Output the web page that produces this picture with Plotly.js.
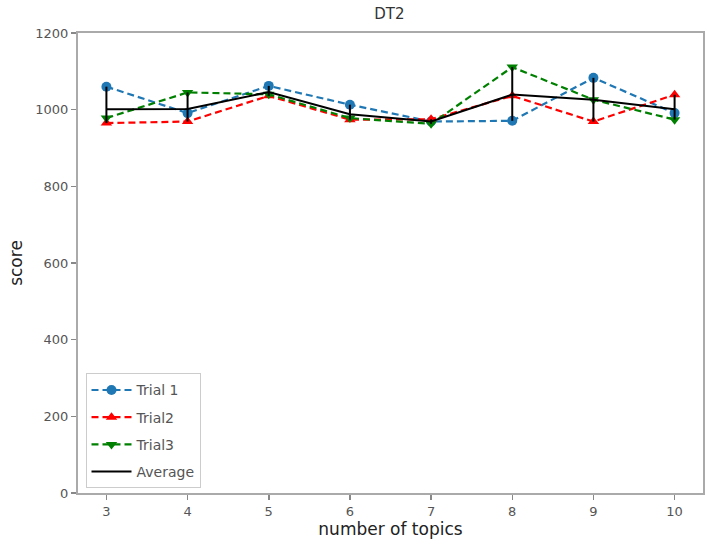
<!DOCTYPE html>
<html>
<head>
<meta charset="utf-8">
<script src="https://cdn.plot.ly/plotly-3.0.1.min.js"></script>
<style>html,body{margin:0;padding:0;background:#fff;}#chart{width:708px;height:546px;}</style>
</head>
<body>
<div id="chart"></div>
<script>
const topics = [3, 4, 5, 6, 7, 8, 9, 10];
const trial1 = [1060, 991, 1062, 1013, 969, 971, 1083, 991];
const trial2 = [965, 969, 1036, 974, 975, 1036, 969, 1039];
const trial3 = [978, 1045, 1040, 978, 963, 1111, 1026, 974];

const average = topics.map((_, i) => (trial1[i] + trial2[i] + trial3[i]) / 3);
const maxVals = topics.map((_, i) => Math.max(trial1[i], trial2[i], trial3[i]));
const minVals = topics.map((_, i) => Math.min(trial1[i], trial2[i], trial3[i]));
const errPlus = average.map((m, i) => maxVals[i] - m);
const errMinus = average.map((m, i) => m - minVals[i]);

const font = {family: 'DejaVu Sans, sans-serif'};

const traces = [
  {x: topics, y: trial1, name: 'Trial 1', mode: 'lines+markers', legendgroup: 'a',
   line: {color: '#1f77b4', dash: '7px,4px', width: 2.2},
   marker: {symbol: 'circle', size: 10, color: '#1f77b4'}},
  {x: topics, y: trial2, name: 'Trial2', mode: 'lines+markers', legendgroup: 'b',
   line: {color: '#ff0000', dash: '7px,4px', width: 2.2},
   marker: {symbol: 'triangle-up', size: 10, color: '#ff0000'}},
  {x: topics, y: trial3, name: 'Trial3', mode: 'lines+markers', legendgroup: 'c',
   line: {color: '#008000', dash: '7px,4px', width: 2.2},
   marker: {symbol: 'triangle-down', size: 10, color: '#008000'}},
  {x: topics, y: average, name: 'Average', mode: 'lines', legendgroup: 'd',
   line: {color: '#000000', width: 2},
   error_y: {type: 'data', symmetric: false, array: errPlus, arrayminus: errMinus,
             color: '#000000', thickness: 2, width: 0}}
];

const layout = {
  width: 708, height: 546,
  margin: {l: 78, r: 5, t: 33, b: 53},
  paper_bgcolor: '#fff', plot_bgcolor: '#fff',
  font: {family: font.family, size: 13, color: '#444'},
  title: {text: 'DT2', x: 0.55, xanchor: 'center', y: 0.975, yanchor: 'middle',
          font: {family: font.family, size: 15, color: '#333'}},
  showlegend: true,
  legend: {x: 0.012, y: 0.01, xanchor: 'left', yanchor: 'bottom',
           bgcolor: 'rgba(255,255,255,0.9)', bordercolor: '#cccccc', borderwidth: 1,
           font: {family: font.family, size: 14, color: '#555'},
           tracegroupgap: 6, itemwidth: 40, entrywidth: 130, entrywidthmode: 'pixels'},
  xaxis: {
    range: [2.65, 10.35], tickmode: 'array', tickvals: topics,
    ticktext: topics.map(String),
    showgrid: false, zeroline: false,
    showline: true, linecolor: '#aaaaaa', linewidth: 2, mirror: true,
    ticks: 'outside', ticklen: 5, tickcolor: '#888', tickwidth: 1.5,
    tickfont: {family: font.family, size: 13, color: '#555'},
    title: {text: 'number of topics', standoff: 4,
            font: {family: font.family, size: 17, color: '#222'}}
  },
  yaxis: {
    range: [0, 1200], tickvals: [0, 200, 400, 600, 800, 1000, 1200],
    showgrid: false, zeroline: false,
    showline: true, linecolor: '#aaaaaa', linewidth: 2, mirror: true,
    ticks: 'outside', ticklen: 5, tickcolor: '#888', tickwidth: 1.5,
    tickfont: {family: font.family, size: 13, color: '#555'},
    title: {text: 'score', standoff: 8,
            font: {family: font.family, size: 17, color: '#222'}}
  }
};

Plotly.newPlot('chart', traces, layout, {displayModeBar: false, staticPlot: true});
</script>
</body>
</html>
